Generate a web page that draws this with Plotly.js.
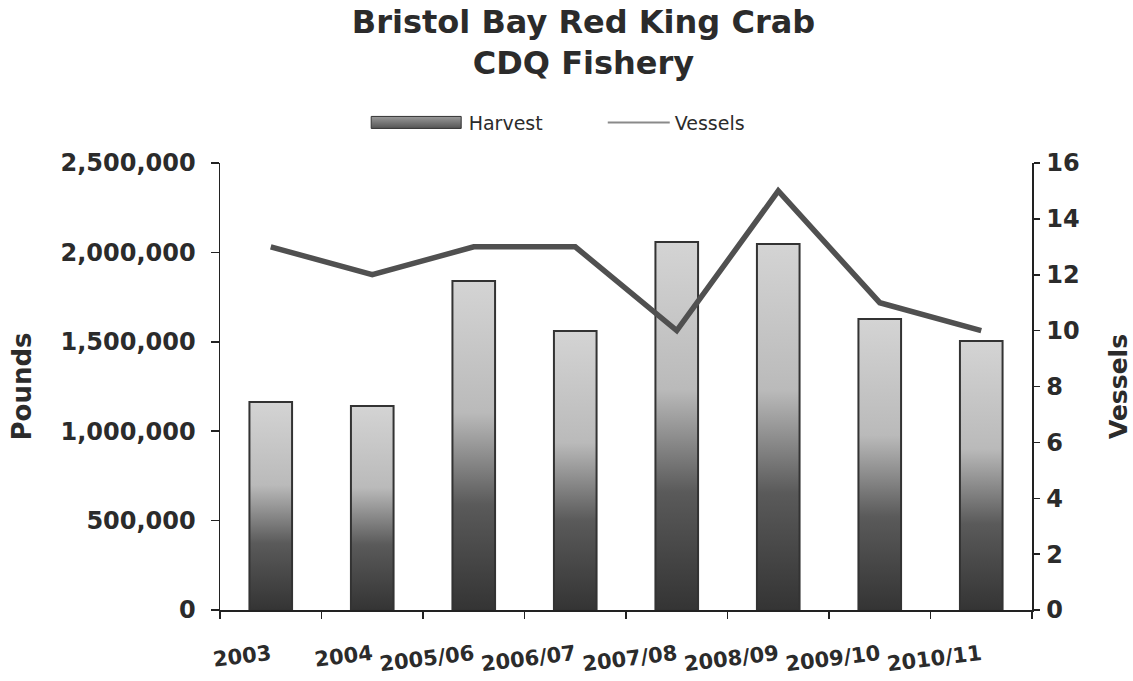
<!DOCTYPE html>
<html><head><meta charset="utf-8">
<script src="https://cdn.plot.ly/plotly-3.0.1.min.js"></script>
<style>body{margin:0;background:#fff}#chart{width:1133px;height:681px}</style>
</head><body><div id="chart"></div>
<script>
const seasons = ['2003','2004','2005/06','2006/07','2007/08','2008/09','2009/10','2010/11'];
const harvestPounds = [1163000,1141000,1840000,1560000,2058000,2047000,1627000,1504000];
const vesselCount = [13,12,13,13,10,15,11,10];
const poundTicks = [0,500000,1000000,1500000,2000000,2500000];
const poundTickText = ['0','500,000','1,000,000','1,500,000','2,000,000','2,500,000'];
const vesselTicks = [0,2,4,6,8,10,12,14,16];

const FONT = 'DejaVu Sans, Verdana, sans-serif';
const INK = '#2b2b2b';

const traces = [
  {type:'bar', name:'Harvest', x:seasons, y:harvestPounds, yaxis:'y', legend:'legend',
   marker:{color:'#9a9a9a', line:{color:'#333', width:2}}, width:0.42},
  {type:'scatter', mode:'lines', name:'Vessels', x:seasons, y:vesselCount, yaxis:'y2', legend:'legend2',
   line:{color:'#505050', width:5.5}}
];

const tickAxisBase = {showline:false, showgrid:false, zeroline:false, showticklabels:false,
  tickcolor:'#222', tickwidth:1.5, overlaying:'y'};

const layout = {
  width:1133, height:681,
  paper_bgcolor:'#fff', plot_bgcolor:'#fff',
  margin:{l:220, r:101, t:163, b:71},
  title:{text:'Bristol Bay Red King Crab<br>CDQ Fishery', font:{family:FONT, size:32, color:INK, weight:'bold'},
         x:0.515, xanchor:'center', y:0.952, yanchor:'top', yref:'container'},
  showlegend:true,
  legend:{orientation:'h', x:0.321, xanchor:'left', y:0.82, yanchor:'middle', yref:'container', xref:'container',
          font:{family:FONT, size:19, color:INK}, itemwidth:95, bgcolor:'rgba(0,0,0,0)'},
  legend2:{orientation:'h', x:0.532, xanchor:'left', y:0.82, yanchor:'middle', yref:'container', xref:'container',
          font:{family:FONT, size:19, color:INK}, itemwidth:62, bgcolor:'rgba(0,0,0,0)'},
  bargap:0.58,
  xaxis:{type:'category', tickson:'boundaries', ticks:'outside', ticklen:7, tickcolor:'#222', tickwidth:1.5,
         showline:true, linecolor:'#222', linewidth:1.5, showgrid:false, zeroline:false,
         tickangle:-7, tickfont:{family:FONT, size:21, color:INK, weight:'bold'}, ticklabelstandoff:23},
  yaxis:{range:[0,2500000], tickvals:poundTicks, ticktext:poundTickText, ticks:'outside', ticklen:8,
         tickcolor:'#222', tickwidth:1.5, showline:true, linecolor:'#222', linewidth:1.5, showgrid:false,
         zeroline:false, tickfont:{family:FONT, size:24, color:INK, weight:'bold'}, ticklabelstandoff:10,
         title:{text:'Pounds', font:{family:FONT, size:26, color:INK, weight:'bold'}, standoff:21}},
  yaxis2:{range:[0,16], tickvals:vesselTicks, overlaying:'y', side:'right', ticks:'outside', ticklen:6,
          tickcolor:'#222', tickwidth:1.5, showline:true, linecolor:'#222', linewidth:1.5, showgrid:false,
          zeroline:false, tickfont:{family:FONT, size:24, color:INK, weight:'bold'}, ticklabelstandoff:2,
          title:{text:'Vessels', font:{family:FONT, size:25, color:INK, weight:'bold'}, standoff:32}},
  yaxis3:Object.assign({}, tickAxisBase, {range:[0,2500000], tickvals:poundTicks, side:'left', ticks:'inside', ticklen:8}),
  yaxis4:Object.assign({}, tickAxisBase, {range:[0,16], tickvals:vesselTicks, side:'right', ticks:'inside', ticklen:14})
};

Plotly.newPlot('chart', traces, layout, {displayModeBar:false, staticPlot:true}).then(function(gd){
  const svg = gd.querySelector('svg.main-svg');
  const NS = 'http://www.w3.org/2000/svg';
  let defs = svg.querySelector('defs');
  if(!defs){ defs = document.createElementNS(NS,'defs'); svg.insertBefore(defs, svg.firstChild); }
  function grad(id, stops){
    const g = document.createElementNS(NS,'linearGradient');
    g.setAttribute('id', id);
    g.setAttribute('x1','0'); g.setAttribute('y1','0');
    g.setAttribute('x2','0'); g.setAttribute('y2','1');
    stops.forEach(function(s){
      const st = document.createElementNS(NS,'stop');
      st.setAttribute('offset', s[0]); st.setAttribute('stop-color', s[1]);
      g.appendChild(st);
    });
    defs.appendChild(g);
  }
  grad('barGrad', [[0,'#d4d4d4'],[0.4,'#bababa'],[0.68,'#5a5a5a'],[1,'#343434']]);
  grad('legGrad', [[0,'#9a9a9a'],[1,'#555']]);
  gd.querySelectorAll('.barlayer .point path').forEach(function(p){ p.style.fill = 'url(#barGrad)'; });
  const leg1 = gd.querySelector('.legend');
  if(leg1){
    leg1.querySelectorAll('.legendpoints path').forEach(function(p){
      p.setAttribute('d','M-45,6H45V-6H-45Z');
      p.style.fill = 'url(#legGrad)';
      p.style.strokeWidth = '1px';
    });
  }
  gd.querySelectorAll('.legend2 .legendlines path, g.legend2 path.js-line').forEach(function(p){
    p.style.strokeWidth = '2px';
    p.style.stroke = '#8a8a8a';
  });
});
</script></body></html>
